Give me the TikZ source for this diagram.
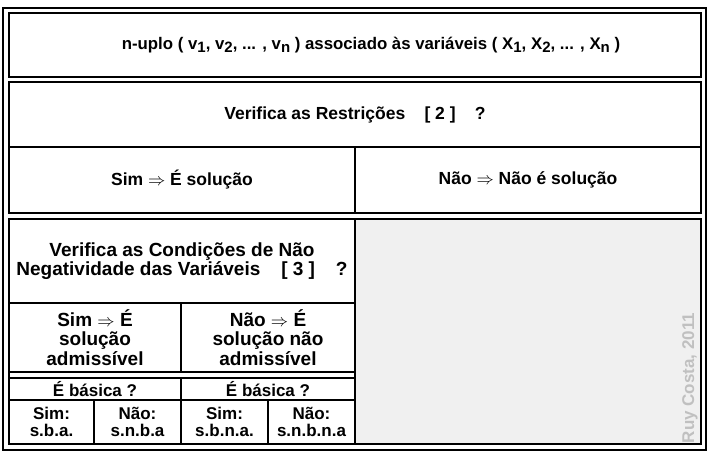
\documentclass[tikz,border=0pt]{standalone}
\usepackage{fontspec}
\setmainfont{Liberation Sans}
\usetikzlibrary{positioning}

\newcommand{\idx}[1]{\raisebox{-3pt}{\fontsize{15}{15}\selectfont #1}}
\definecolor{panel}{RGB}{240,240,240}
\definecolor{signgray}{RGB}{192,192,192}

\begin{document}
\begin{tikzpicture}[x=1pt, y=-1pt, line width=2.7pt,
	cell/.style={draw, inner sep=0pt, outer sep=0pt, align=center, font=\bfseries\fontsize{17.5}{21}\selectfont},
	big/.style={cell, font=\bfseries\fontsize{19}{19.5}\selectfont},
	small/.style={cell, font=\bfseries\fontsize{17}{16.5}\selectfont}]
	\useasboundingbox (0,0) rectangle (709,453);

	\node[cell, minimum width=692pt, minimum height=64pt, font=\bfseries\fontsize{16.8}{20}\selectfont] (tuple) at (355,45)
		{\hspace*{32pt}n-uplo ( v\idx{1}, v\idx{2}, ... , v\idx{n} ) associado às variáveis ( X\idx{1}, X\idx{2}, ... , X\idx{n} )};
	\node[cell, minimum width=692pt, minimum height=65pt, below=5pt of tuple] (restr)
		{Verifica as Restrições\hspace{1.1em}[ 2 ]\hspace{1.1em}?};
	\node[cell, minimum width=346pt, minimum height=66pt, anchor=north west] (simR) at (restr.south west)
		{Sim $\Rightarrow$ É solução};
	\node[cell, minimum width=346pt, minimum height=66pt, right=0pt of simR] (naoR)
		{Não $\Rightarrow$ Não é solução};

	\node[big, minimum width=346pt, minimum height=84pt, below=6pt of simR] (cond)
		{Verifica as Condições de Não\\Negatividade das Variáveis\hspace{1.1em}[ 3 ]\hspace{1.1em}?};
	\node[cell, fill=panel, minimum width=346pt, minimum height=225pt, anchor=north west] (blank) at (cond.north east) {};
	\node[big, minimum width=172pt, minimum height=69pt, anchor=north west] (simA) at (cond.south west)
		{Sim $\Rightarrow$ É\\solução\\admissível};
	\node[big, minimum width=174pt, minimum height=69pt, right=0pt of simA] (naoA)
		{Não $\Rightarrow$ É\\solução não\\admissível};
	\node[small, minimum width=172pt, minimum height=22pt, below=6pt of simA] (basL) {É básica ?};
	\node[small, minimum width=174pt, minimum height=22pt, right=0pt of basL] (basR) {É básica ?};
	\node[small, minimum width=85pt, minimum height=44pt, anchor=north west] (sba) at (basL.south west) {Sim:\\s.b.a.};
	\node[small, minimum width=87pt, minimum height=44pt, right=0pt of sba] (snba) {Não:\\s.n.b.a};
	\node[small, minimum width=87pt, minimum height=44pt, right=0pt of snba] (sbna) {Sim:\\s.b.n.a.};
	\node[small, minimum width=87pt, minimum height=44pt, right=0pt of sbna] (snbna) {Não:\\s.n.b.n.a};

	\draw (cond.north west) rectangle (blank.south east);
	\draw (3,8) rectangle (706,450);

	\node[rotate=90, inner sep=0pt, text=signgray, font=\bfseries\fontsize{17}{17}\selectfont] (sign) at (690,378) {Ruy Costa, 2011};
\end{tikzpicture}
\end{document}
